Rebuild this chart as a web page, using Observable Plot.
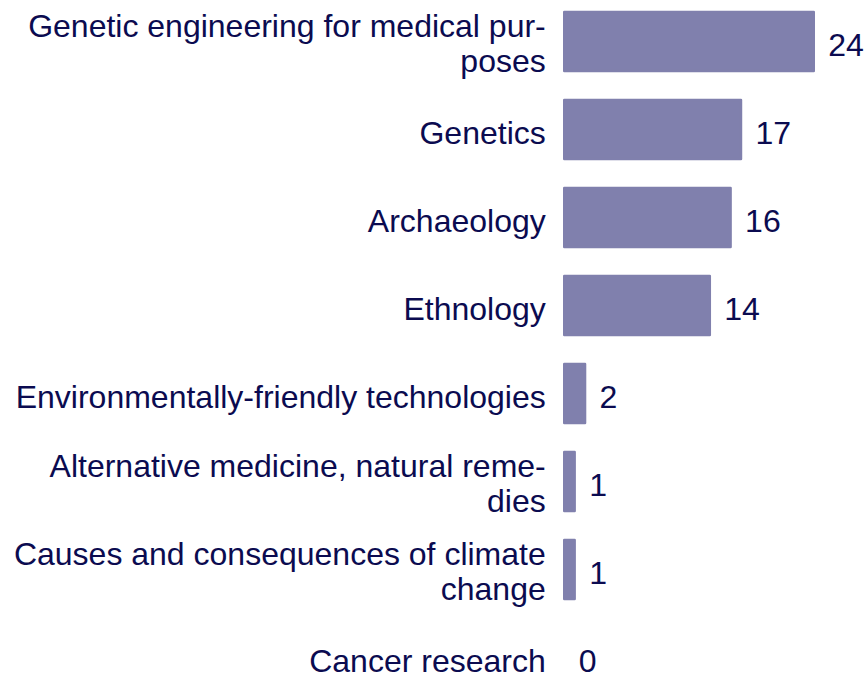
<!DOCTYPE html>
<html>
<head>
<meta charset="utf-8">
<script src="https://cdn.jsdelivr.net/npm/d3@7"></script>
<script src="https://cdn.jsdelivr.net/npm/@observablehq/plot@0.6"></script>
<style>
  html, body { margin: 0; padding: 0; background: #fff; }
  #chart svg { display: block; }
</style>
</head>
<body>
<div id="chart"></div>
<script>
const categories = [
  "Genetic engineering for medical pur-\nposes",
  "Genetics",
  "Archaeology",
  "Ethnology",
  "Environmentally-friendly technologies",
  "Alternative medicine, natural reme-\ndies",
  "Causes and consequences of climate\nchange",
  "Cancer research"
];
const values = [24, 17, 16, 14, 2, 1, 1, 0];

const data = categories.map((c, i) => ({category: c, value: values[i]}));
const singleLine = categories.filter(c => !c.includes("\n"));
const multiLine = categories.filter(c => c.includes("\n"));

const navy = "#0b0b50";
const barColor = "#8080ad";

const chart = Plot.plot({
  width: 868,
  height: 677,
  marginLeft: 564.25,
  marginRight: 54.25,
  marginTop: 12.25,
  marginBottom: -11,
  style: {fontFamily: "'Liberation Sans', Arial, sans-serif", fontSize: "32px", color: navy, background: "#fff"},
  x: {domain: [0, 24], axis: null},
  y: {domain: categories, paddingInner: 0.335, paddingOuter: 0, align: 0, label: null},
  marks: [
    Plot.barX(data, {x: "value", y: "category", fill: barColor, stroke: barColor, strokeWidth: 2.5, strokeLinejoin: "round"}),
    Plot.axisY({ticks: singleLine, tickSize: 0, tickPadding: 19, dy: 4, fontSize: 32, label: null, fill: navy}),
    Plot.axisY({ticks: multiLine, tickSize: 0, tickPadding: 19, dy: 1, fontSize: 32, lineHeight: 1.11, label: null, fill: navy}),
    Plot.text(data, {x: "value", y: "category", text: d => String(d.value), dx: 14, dy: 4, textAnchor: "start", fontSize: 32, fill: navy})
  ]
});
document.getElementById("chart").appendChild(chart);
</script>
</body>
</html>
